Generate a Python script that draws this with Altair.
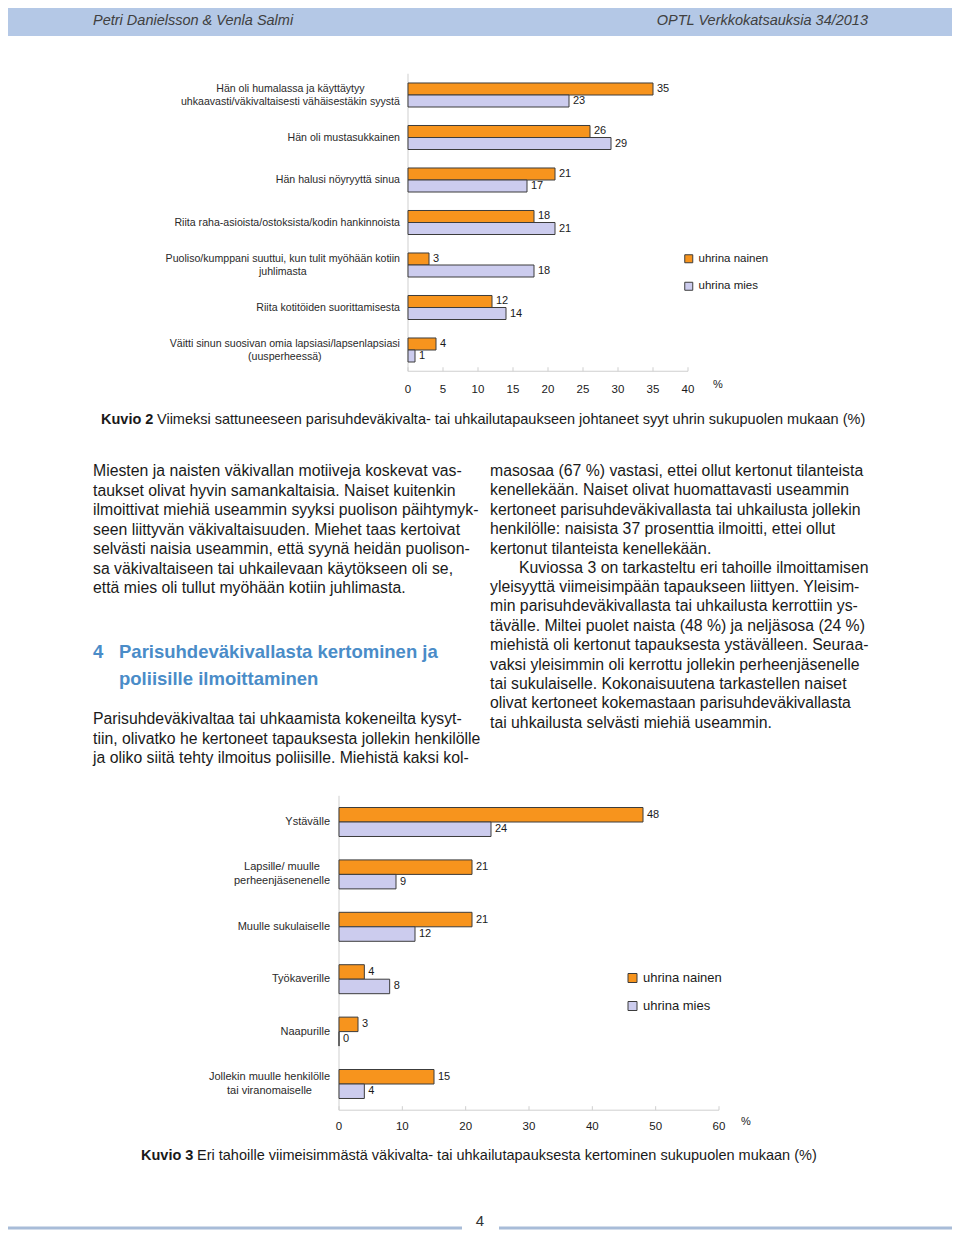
import altair as alt
import pandas as pd

FONT = "Liberation Sans, Arial, Helvetica, sans-serif"

# ---------------- data ----------------
series = ["uhrina nainen", "uhrina mies"]
colors = ["#F7941D", "#CCCCEE"]

cats1 = [
    "Hän oli humalassa ja käyttäytyy\nuhkaavasti/väkivaltaisesti vähäisestäkin syystä",
    "Hän oli mustasukkainen",
    "Hän halusi nöyryyttä sinua",
    "Riita raha-asioista/ostoksista/kodin hankinnoista",
    "Puoliso/kumppani suuttui, kun tulit myöhään kotiin\njuhlimasta",
    "Riita kotitöiden suorittamisesta",
    "Väitti sinun suosivan omia lapsiasi/lapsenlapsiasi\n(uusperheessä)",
]
nainen1 = [35, 26, 21, 18, 3, 12, 4]
mies1 = [23, 29, 17, 21, 18, 14, 1]
ticks1 = [0, 5, 10, 15, 20, 25, 30, 35, 40]

cats2 = [
    "Ystävälle",
    "Lapsille/ muulle\nperheenjäsenenelle",
    "Muulle sukulaiselle",
    "Työkaverille",
    "Naapurille",
    "Jollekin muulle henkilölle\ntai viranomaiselle",
]
nainen2 = [48, 21, 21, 4, 3, 15]
mies2 = [24, 9, 12, 8, 0, 4]
ticks2 = [0, 10, 20, 30, 40, 50, 60]

header_left = "Petri Danielsson & Venla Salmi"
header_right = "OPTL Verkkokatsauksia 34/2013"
caption1_bold = "Kuvio 2"
caption1_text = "Viimeksi sattuneeseen parisuhdeväkivalta- tai uhkailutapaukseen johtaneet syyt uhrin sukupuolen mukaan (%)"
caption2_bold = "Kuvio 3"
caption2_text = "Eri tahoille viimeisimmästä väkivalta- tai uhkailutapauksesta kertominen sukupuolen mukaan (%)"

left_par1 = [
    "Miesten ja naisten väkivallan motiiveja koskevat vas-",
    "taukset olivat hyvin samankaltaisia. Naiset kuitenkin",
    "ilmoittivat miehiä useammin syyksi puolison päihtymyk-",
    "seen liittyvän väkivaltaisuuden. Miehet taas kertoivat",
    "selvästi naisia useammin, että syynä heidän puolison-",
    "sa väkivaltaiseen tai uhkailevaan käytökseen oli se,",
    "että mies oli tullut myöhään kotiin juhlimasta.",
]
heading_num = "4"
heading_lines = ["Parisuhdeväkivallasta kertominen ja", "poliisille ilmoittaminen"]
left_par2 = [
    "Parisuhdeväkivaltaa tai uhkaamista kokeneilta kysyt-",
    "tiin, olivatko he kertoneet tapauksesta jollekin henkilölle",
    "ja oliko siitä tehty ilmoitus poliisille. Miehistä kaksi kol-",
]
right_par1 = [
    "masosaa (67 %) vastasi, ettei ollut kertonut tilanteista",
    "kenellekään. Naiset olivat huomattavasti useammin",
    "kertoneet parisuhdeväkivallasta tai uhkailusta jollekin",
    "henkilölle: naisista 37 prosenttia ilmoitti, ettei ollut",
    "kertonut tilanteista kenellekään.",
]
right_par2_first = "Kuviossa 3 on tarkasteltu eri tahoille ilmoittamisen"
right_par2_rest = [
    "yleisyyttä viimeisimpään tapaukseen liittyen. Yleisim-",
    "min parisuhdeväkivallasta tai uhkailusta kerrottiin ys-",
    "tävälle. Miltei puolet naista (48 %) ja neljäsosa (24 %)",
    "miehistä oli kertonut tapauksesta ystävälleen. Seuraa-",
    "vaksi yleisimmin oli kerrottu jollekin perheenjäsenelle",
    "tai sukulaiselle. Kokonaisuutena tarkastellen naiset",
    "olivat kertoneet kokemastaan parisuhdeväkivallasta",
    "tai uhkailusta selvästi miehiä useammin.",
]
page_number = "4"

# ---------------- helpers ----------------
_W = {}
for c in "ijl":
    _W[c] = 222
for c in "ft/ .,:;!()[]I":
    _W[c] = 278
for c in "r-":
    _W[c] = 333
for c in "sckvxyzJ":
    _W[c] = 500
for c in "CDHNRUw":
    _W[c] = 722
for c in "OGQ":
    _W[c] = 778
for c in "mM":
    _W[c] = 833
_W["W"] = 944


def est_width(s, size):
    tot = 0
    for ch in s:
        if ch in _W:
            tot += _W[ch]
        elif ch.isupper():
            tot += 667
        else:
            tot += 556
    return tot * size / 1000.0


def text_layer(txt, x, y, size, align="left", baseline="middle", weight="normal",
               style="normal", color="#1a1a1a", line_height=None):
    kw = dict(align=align, baseline=baseline, fontSize=size, font=FONT,
              fontWeight=weight, fontStyle=style, color=color, lineBreak="\n")
    if line_height is not None:
        kw["lineHeight"] = line_height
    return alt.Chart(pd.DataFrame({"t": [txt]})).mark_text(**kw).encode(
        text="t:N", x=alt.value(x), y=alt.value(y))


def panel(cats, nainen, mies, ticks, xdom, xr, yr, pad, lab_size, lab_lh, lab_right,
          val_size, tick_size, tick_y, pct_xy, leg_x, leg_y, leg_font, leg_sym, leg_rowpad):
    n = len(cats)
    df = pd.DataFrame({
        "cat": cats * 2,
        "series": [series[0]] * n + [series[1]] * n,
        "value": nainen + mies,
    })
    xs = alt.Scale(domain=xdom, range=xr, nice=False, zero=True)
    ys = alt.Scale(domain=cats, range=yr, paddingInner=pad, paddingOuter=pad / 2)
    yo = alt.Scale(domain=series, paddingInner=0, paddingOuter=0)
    X = alt.X("value:Q", scale=xs, axis=None)
    Y = alt.Y("cat:N", scale=ys, axis=None)
    YO = alt.YOffset("series:N", scale=yo)

    bars = alt.Chart(df).mark_bar(stroke="#3c3c3c", strokeWidth=1).encode(
        x=X, y=Y, yOffset=YO,
        color=alt.Color("series:N", scale=alt.Scale(domain=series, range=colors),
                        legend=alt.Legend(orient="none", legendX=leg_x, legendY=leg_y,
                                          title=None, padding=0, symbolType="square",
                                          symbolSize=leg_sym, symbolStrokeColor="#3c3c3c",
                                          symbolStrokeWidth=1, labelFont=FONT,
                                          labelFontSize=leg_font, labelColor="#1a1a1a",
                                          labelOffset=4, rowPadding=leg_rowpad)))
    vals = alt.Chart(df).mark_text(align="left", baseline="middle", dx=4, fontSize=val_size,
                                   font=FONT, color="#1a1a1a").encode(
        x=X, y=Y, yOffset=YO, text="value:Q")

    single = [c for c in cats if "\n" not in c]
    multi = [c for c in cats if "\n" in c]
    lab1 = alt.Chart(pd.DataFrame({"cat": single})).mark_text(
        align="right", baseline="middle", fontSize=lab_size, font=FONT, color="#2a2a2a").encode(
        y=Y, x=alt.value(lab_right), text="cat:N")
    mdf = pd.DataFrame({
        "cat": multi,
        "lx": [lab_right - max(est_width(l, lab_size) for l in c.split("\n")) / 2 for c in multi],
    })
    nlines = max(c.count("\n") + 1 for c in multi)
    lab2 = alt.Chart(mdf).mark_text(
        align="center", baseline="middle", fontSize=lab_size, font=FONT, color="#2a2a2a",
        lineBreak="\n", lineHeight=lab_lh, dy=-(nlines - 1) * lab_lh / 2).encode(
        y=Y, x=alt.X("lx:Q", scale=None), text="cat:N")

    tdf = pd.DataFrame({"t": ticks})
    TX = alt.X("t:Q", scale=xs, axis=None)
    tickmarks = alt.Chart(tdf).mark_rule(color="#cfcfcf", strokeWidth=1).encode(
        x=TX, y=alt.value(yr[1] - 4), y2=alt.value(yr[1]))
    ticklabels = alt.Chart(tdf).mark_text(baseline="middle", fontSize=tick_size, font=FONT,
                                          color="#1a1a1a").encode(
        x=TX, y=alt.value(tick_y), text="t:Q")
    adf = pd.DataFrame({"a": [xdom[0]], "b": [xdom[1]]})
    AX = alt.X("a:Q", scale=xs, axis=None)
    hline = alt.Chart(adf).mark_rule(color="#cfcfcf", strokeWidth=1).encode(
        x=AX, x2="b:Q", y=alt.value(yr[1]))
    vline = alt.Chart(adf).mark_rule(color="#cfcfcf", strokeWidth=1).encode(
        x=AX, y=alt.value(yr[0]), y2=alt.value(yr[1]))
    pct = text_layer("%", pct_xy[0], pct_xy[1], tick_size - 0.5, align="left")
    return alt.layer(vline, hline, tickmarks, bars, vals, lab1, lab2, ticklabels, pct)


# ---------------- page pieces ----------------
band = alt.Chart(pd.DataFrame({"a": [0]})).mark_rect(color="#b4c8e6").encode(
    x=alt.value(0), x2=alt.value(944), y=alt.value(0), y2=alt.value(28))
hl = text_layer(header_left, 85, 12.5, 14.5, style="italic", color="#404040")
hr = text_layer(header_right, 860, 12.5, 14.5, align="right", style="italic", color="#404040")

p1 = panel(cats1, nainen1, mies1, ticks1, [0, 40], [400, 680], [65.75, 363.25], 0.435,
           10.6, 13, 392, 11, 11.5, 382, (705, 377),
           675, 245, 11.5, 64, 14.5)
cap1a = text_layer(caption1_bold, 93, 412, 14.5, weight="bold")
cap1b = text_layer(caption1_text, 149, 412, 14.5)

BODY = 15.8
body_l1 = text_layer("\n".join(left_par1), 85, 456, BODY, baseline="top", line_height=19.5)
head_n = text_layer(heading_num, 85, 634.5, 18.5, baseline="top", weight="bold", color="#4a8cc8")
head_t = text_layer("\n".join(heading_lines), 111, 634.5, 18.5, baseline="top", weight="bold",
                    color="#4a8cc8", line_height=27)
body_l2 = text_layer("\n".join(left_par2), 85, 704, BODY, baseline="top", line_height=19.5)
body_r1 = text_layer("\n".join(right_par1), 482, 456, BODY, baseline="top", line_height=19.4)
body_r2 = text_layer(right_par2_first, 511, 553, BODY, baseline="top")
body_r3 = text_layer("\n".join(right_par2_rest), 482, 572, BODY, baseline="top", line_height=19.4)

p2 = panel(cats2, nainen2, mies2, ticks2, [0, 60], [331, 711], [787.8, 1102.2], 0.447,
           11, 14, 322, 11, 11.5, 1119, (733, 1114),
           618, 963.5, 13, 81, 14)
cap2a = text_layer(caption2_bold, 133, 1148, 14.5, weight="bold")
cap2b = text_layer(caption2_text, 189, 1148, 14.5)

foot_l = alt.Chart(pd.DataFrame({"a": [0]})).mark_rule(color="#a8bcd8", strokeWidth=3).encode(
    x=alt.value(0), x2=alt.value(454), y=alt.value(1220))
foot_r = alt.Chart(pd.DataFrame({"a": [0]})).mark_rule(color="#a8bcd8", strokeWidth=3).encode(
    x=alt.value(491), x2=alt.value(944), y=alt.value(1220))
foot_n = text_layer(page_number, 472, 1221, 15, align="center", baseline="bottom", color="#333333")

chart = alt.layer(
    band, hl, hr, p1, cap1a, cap1b, body_l1, head_n, head_t, body_l2,
    body_r1, body_r2, body_r3, p2, cap2a, cap2b, foot_l, foot_r, foot_n,
).resolve_scale(
    x="independent", y="independent", color="independent", yOffset="independent"
).properties(
    width=944, height=1223, padding=0, autosize=alt.AutoSizeParams(type="none"),
    background="white",
).configure_view(stroke=None)

chart.save("out.html", embed_options={"renderer": "svg", "actions": False})
